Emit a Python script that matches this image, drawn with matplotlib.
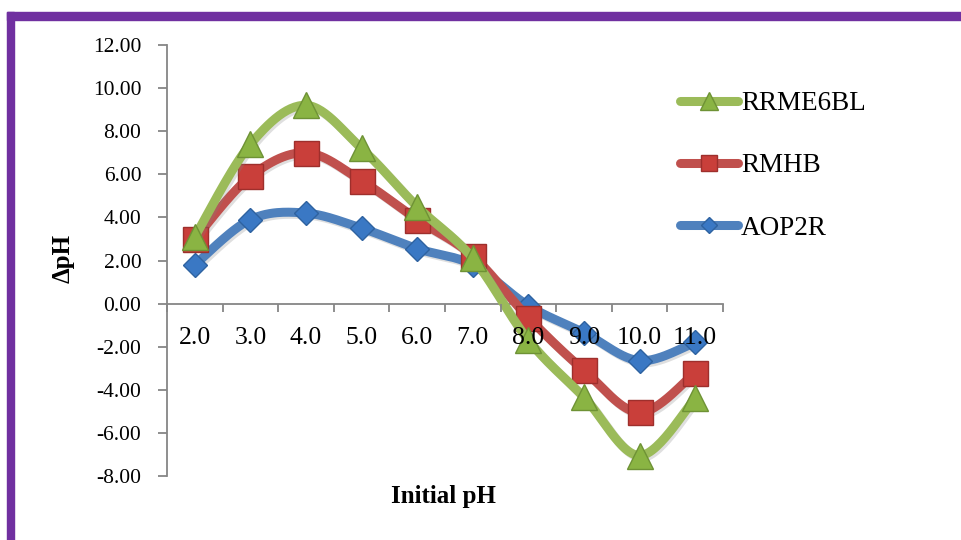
import numpy as np
import matplotlib
matplotlib.use('Agg')
import matplotlib.pyplot as plt
import matplotlib.patheffects as pe
from matplotlib.lines import Line2D

plt.rcParams['font.family'] = ['Liberation Serif', 'DejaVu Serif']

# Data
ph_labels = ['2.0', '3.0', '4.0', '5.0', '6.0', '7.0', '8.0', '9.0', '10.0', '11.0']
aop2r = [1.8, 3.9, 4.2, 3.5, 2.55, 1.8, -0.1, -1.35, -2.65, -1.8]
rmhb = [3.0, 5.9, 7.0, 5.7, 3.9, 2.2, -0.65, -3.1, -5.05, -3.2]
rrme6bl = [3.1, 7.4, 9.2, 7.2, 4.5, 2.1, -1.7, -4.35, -7.05, -4.4]

series = [
    ('AOP2R', aop2r, '#4F81BD', '#3A78C4', '#2E62A0', 'D', 12.5),
    ('RMHB', rmhb, '#C0504D', '#C93F3A', '#9E2F2C', 's', 18),
    ('RRME6BL', rrme6bl, '#9BBB59', '#8AB443', '#6E9235', '^', 19),
]


def smooth(xs, ys, n=30):
    # Excel-style smoothed line (Catmull-Rom as cubic Bezier)
    pts = np.column_stack([xs, ys]).astype(float)
    ext = np.vstack([pts[0], pts, pts[-1]])
    out = []
    t = np.linspace(0, 1, n)[:, None]
    for i in range(len(pts) - 1):
        p0, p3 = ext[i + 1], ext[i + 2]
        c1 = p0 + (ext[i + 2] - ext[i]) / 6.0
        c2 = p3 - (ext[i + 3] - ext[i + 1]) / 6.0
        seg = ((1 - t) ** 3) * p0 + 3 * ((1 - t) ** 2) * t * c1 + 3 * (1 - t) * t ** 2 * c2 + t ** 3 * p3
        out.append(seg if i == 0 else seg[1:])
    out = np.vstack(out)
    return out[:, 0], out[:, 1]


fig = plt.figure(figsize=(9.61, 5.40), dpi=100)
ax = fig.add_axes([167 / 961, 1 - 476 / 540, (723 - 167) / 961, (476 - 45) / 540])

x = np.arange(len(ph_labels))
shadow = [pe.SimpleLineShadow(offset=(1.5, -1.5), shadow_color='gray', alpha=0.25), pe.Normal()]
handles = []
for i, (name, vals, lc, mc, ec, mk, ms) in enumerate(series):
    sx, sy = smooth(x, vals)
    ax.plot(sx, sy, color=lc, lw=6.5, solid_capstyle='round', zorder=2 + 2 * i, path_effects=shadow)
    ax.plot(x, vals, ls='none', marker=mk, ms=ms, mfc=mc, mec=ec, mew=1, zorder=3 + 2 * i)
    handles.append(Line2D([], [], color=lc, lw=6.5, solid_capstyle='round', marker=mk,
                          ms=ms * 0.65, mfc=mc, mec=ec, label=name))

ax.set_xlim(-0.5, len(ph_labels) - 0.5)
ax.set_ylim(-8, 12)
ax.set_yticks(np.arange(-8, 13, 2))
ax.set_yticklabels(['%.2f' % v for v in np.arange(-8, 13, 2)])
ax.set_xticks(x)
ax.set_xticklabels(ph_labels)
ax.set_xticks(np.arange(-0.5, len(ph_labels), 1), minor=True)

for s in ['top', 'right']:
    ax.spines[s].set_visible(False)
ax.spines['bottom'].set_position(('data', 0))
ax.spines['left'].set_color('#868686')
ax.spines['bottom'].set_color('#868686')
ax.spines['left'].set_linewidth(1.3)
ax.spines['bottom'].set_linewidth(1.3)
ax.tick_params(axis='y', direction='out', length=6.5, width=1.3, color='#868686', pad=12, labelsize=15.5)
ax.tick_params(axis='x', which='major', length=0, pad=17, labelsize=18.5)
ax.tick_params(axis='x', which='minor', direction='out', length=5.5, width=1.3, color='#868686')
ax.xaxis.set_zorder(20)

fig.text(443 / 961, 1 - 496 / 540, 'Initial pH', ha='center', va='center', fontsize=18, fontweight='bold')
fig.text(63 / 961, 1 - 258 / 540, 'ΔpH', ha='center', va='center', rotation=90, fontsize=18, fontweight='bold')

fig.legend(handles=handles[::-1], loc='center left', bbox_to_anchor=(680 / 961, 1 - 166 / 540),
           frameon=False, fontsize=19.5, handlelength=2.15, handletextpad=0.1, labelspacing=1.38,
           borderpad=0, borderaxespad=0)

# purple frame along the top and left
fig.patches.append(plt.Rectangle((7 / 961, 0), 7 / 961, 1 - 12 / 540, transform=fig.transFigure,
                                 color='#7030A0', zorder=10))
fig.patches.append(plt.Rectangle((7 / 961, 1 - 20 / 540), 1, 8 / 540, transform=fig.transFigure,
                                 color='#7030A0', zorder=10))

fig.savefig('out.png', dpi=100)
